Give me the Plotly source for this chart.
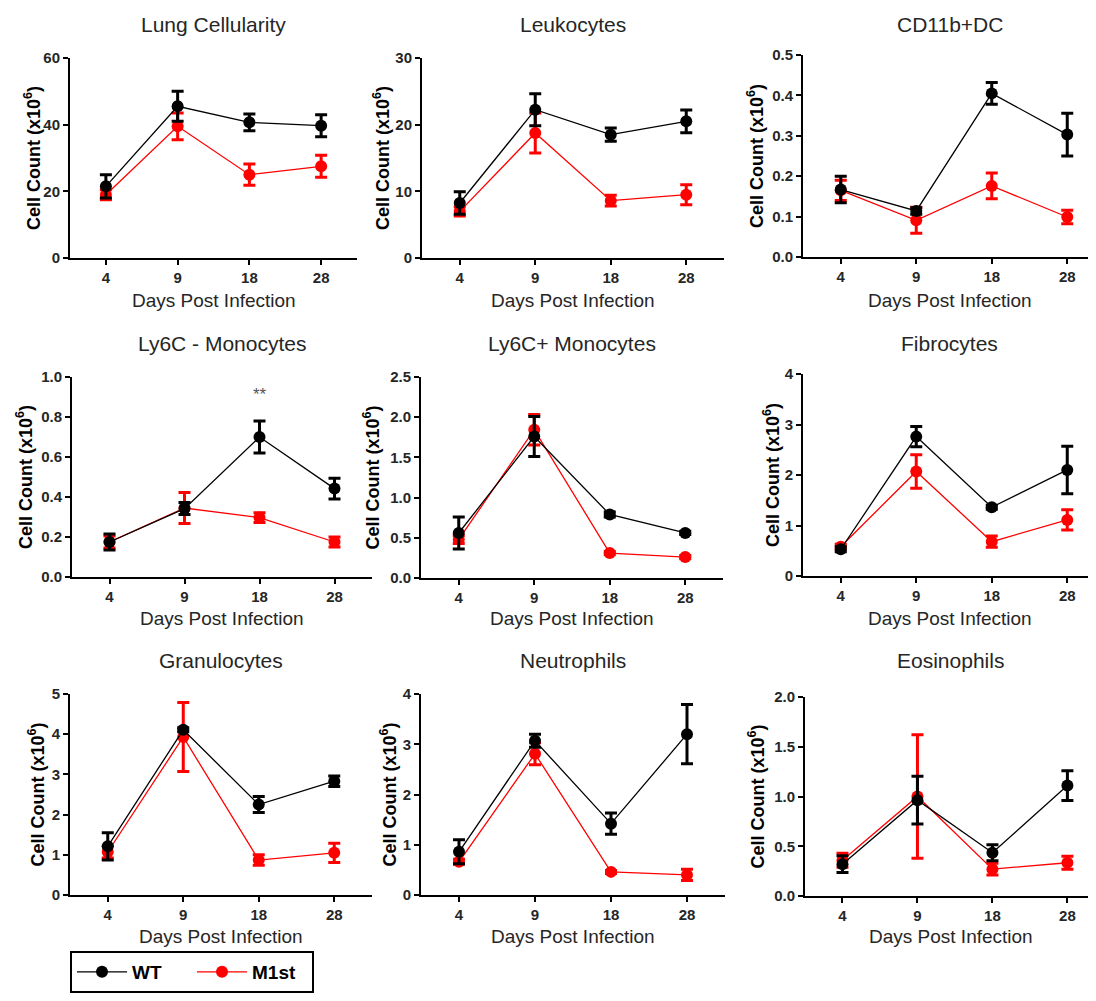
import plotly.graph_objects as go

# page body has an 8px margin, so the figure is sized to fit the window
OFF = 8
W, H = 1096 - 2 * OFF, 1001 - 2 * OFF
days = ["4", "9", "18", "28"]

# ---- data (mean and error, x10^6 cells) ----
lung_wt = [21.5, 45.5, 40.7, 39.7]
lung_wt_err = [3.5, 4.5, 2.5, 3.3]
lung_m1 = [19.0, 39.5, 25.0, 27.5]
lung_m1_err = [1.5, 4.0, 3.2, 3.3]

leuk_wt = [8.25, 22.25, 18.5, 20.5]
leuk_wt_err = [1.7, 2.4, 1.0, 1.7]
leuk_m1 = [7.0, 18.75, 8.6, 9.5]
leuk_m1_err = [0.7, 3.0, 0.8, 1.5]

cd11_wt = [0.167, 0.114, 0.405, 0.303]
cd11_wt_err = [0.033, 0.008, 0.027, 0.053]
cd11_m1 = [0.165, 0.091, 0.176, 0.099]
cd11_m1_err = [0.025, 0.032, 0.032, 0.017]

ly6cn_wt = [0.175, 0.342, 0.70, 0.442]
ly6cn_wt_err = [0.04, 0.03, 0.08, 0.052]
ly6cn_m1 = [0.175, 0.345, 0.297, 0.175]
ly6cn_m1_err = [0.03, 0.078, 0.024, 0.025]

ly6cp_wt = [0.56, 1.76, 0.79, 0.56]
ly6cp_wt_err = [0.2, 0.25, 0.03, 0.02]
ly6cp_m1 = [0.48, 1.845, 0.31, 0.26]
ly6cp_m1_err = [0.05, 0.19, 0.02, 0.02]

fib_wt = [0.53, 2.76, 1.36, 2.1]
fib_wt_err = [0.05, 0.2, 0.04, 0.47]
fib_m1 = [0.58, 2.07, 0.68, 1.11]
fib_m1_err = [0.05, 0.33, 0.11, 0.2]

gran_wt = [1.21, 4.11, 2.25, 2.83]
gran_wt_err = [0.34, 0.05, 0.2, 0.13]
gran_m1 = [1.07, 3.93, 0.87, 1.05]
gran_m1_err = [0.15, 0.86, 0.13, 0.24]

neut_wt = [0.86, 3.07, 1.42, 3.2]
neut_wt_err = [0.24, 0.13, 0.21, 0.59]
neut_m1 = [0.66, 2.81, 0.46, 0.40]
neut_m1_err = [0.05, 0.22, 0.03, 0.11]

eos_wt = [0.32, 0.963, 0.435, 1.11]
eos_wt_err = [0.085, 0.24, 0.08, 0.15]
eos_m1 = [0.36, 1.0, 0.27, 0.334]
eos_m1_err = [0.07, 0.62, 0.06, 0.065]

titles = ["Lung Cellularity", "Leukocytes", "CD11b+DC",
          "Ly6C - Monocytes", "Ly6C+ Monocytes", "Fibrocytes",
          "Granulocytes", "Neutrophils", "Eosinophils"]
y_max = [60, 30, 0.5, 1.0, 2.5, 4, 5, 4, 2.0]
y_step = [20, 10, 0.1, 0.2, 0.5, 1, 1, 1, 0.5]
y_fmt = ["d", "d", ".1f", ".1f", ".1f", "d", "d", "d", ".1f"]

wt_series = [lung_wt, leuk_wt, cd11_wt, ly6cn_wt, ly6cp_wt, fib_wt, gran_wt, neut_wt, eos_wt]
wt_errs = [lung_wt_err, leuk_wt_err, cd11_wt_err, ly6cn_wt_err, ly6cp_wt_err, fib_wt_err, gran_wt_err, neut_wt_err, eos_wt_err]
m1_series = [lung_m1, leuk_m1, cd11_m1, ly6cn_m1, ly6cp_m1, fib_m1, gran_m1, neut_m1, eos_m1]
m1_errs = [lung_m1_err, leuk_m1_err, cd11_m1_err, ly6cn_m1_err, ly6cp_m1_err, fib_m1_err, gran_m1_err, neut_m1_err, eos_m1_err]

# ---- layout geometry (screen pixels of the target picture) ----
RIGHT = 1096 - OFF
x_dom_px = [(70, 357), (422, 724), (803, RIGHT),
            (72, 372), (421, 723), (803, RIGHT),
            (70, 372), (421, 725), (805, RIGHT)]
col3_right = -0.5 + (RIGHT - 803) / 75.5
x_rng = [(-0.5, 3.5), (-0.5, 3.5), (-0.5, col3_right),
         (-0.5, 3.5), (-0.5, 3.5), (-0.5, col3_right),
         (-0.5, 3.5), (-0.5, 3.5), (-0.5, col3_right)]
y_dom_px = [(58, 258), (58, 258), (55, 257),
            (377, 577), (377, 578), (374, 576),
            (694, 895), (694, 895), (697, 896)]
title_y_px = [25, 343, 660]
xtitle_y_px = [300, 618, 936]
ytitle_x_px = [32, 381, 756, 24, 372, 771, 37, 389, 757]

FONT = "Arial, Liberation Sans, sans-serif"
TXT = "#262626"
RED = "#ff0000"
BLK = "#000000"

def px2x(p):
    return (p - OFF) / W

def px2y(p):
    return 1 - (p - OFF) / H

fig = go.Figure()
annotations = []
idx = list(range(4))

for i in range(9):
    ax = "" if i == 0 else str(i + 1)
    xref, yref = "x" + ax, "y" + ax
    for name, ys, es, col, show in [("M1st", m1_series[i], m1_errs[i], RED, i == 0),
                                    ("WT", wt_series[i], wt_errs[i], BLK, i == 0)]:
        fig.add_trace(go.Scatter(
            x=idx, y=ys, mode="lines+markers", name=name,
            line=dict(color=col, width=1.3),
            marker=dict(color=col, size=12, symbol="circle"),
            error_y=dict(type="data", array=es, visible=True, color=col,
                         thickness=3, width=6),
            xaxis=xref, yaxis=yref, showlegend=show,
            legendrank=2 if name == "M1st" else 1,
            cliponaxis=False,
        ))
    xd = x_dom_px[i]
    yd = y_dom_px[i]
    fig.layout["xaxis" + ax] = dict(
        domain=[px2x(xd[0]), min(1.0, px2x(xd[1]))], range=list(x_rng[i]), anchor=yref,
        tickmode="array", tickvals=idx, ticktext=days,
        showline=True, linecolor=BLK, linewidth=2, ticks="outside", ticklen=5,
        tickwidth=2, tickcolor=BLK, showgrid=False, zeroline=False,
        tickfont=dict(family=FONT, size=15, color=TXT, weight="bold"), fixedrange=True,
    )
    nt = int(round(y_max[i] / y_step[i]))
    tv = [round(k * y_step[i], 3) for k in range(nt + 1)]
    tt = [("%d" % v) if y_fmt[i] == "d" else ("%.1f" % v) for v in tv]
    fig.layout["yaxis" + ax] = dict(
        domain=[px2y(yd[1]), px2y(yd[0])], range=[0, y_max[i]], anchor=xref,
        tickmode="array", tickvals=tv, ticktext=tt,
        showline=True, linecolor=BLK, linewidth=2, ticks="outside", ticklen=5,
        tickwidth=2, tickcolor=BLK, showgrid=False, zeroline=False,
        tickfont=dict(family=FONT, size=15, color=TXT, weight="bold"), fixedrange=True,
    )
    row = i // 3
    cx = (xd[0] + xd[1]) / 2 if i % 3 != 2 else (xd[0] + 1096) / 2
    annotations.append(dict(text=titles[i], x=px2x(cx), y=px2y(title_y_px[row]),
                            xref="paper", yref="paper", showarrow=False,
                            xanchor="center", yanchor="middle",
                            font=dict(family=FONT, size=21, color=TXT)))
    annotations.append(dict(text="Days Post Infection", x=px2x(cx), y=px2y(xtitle_y_px[row]),
                            xref="paper", yref="paper", showarrow=False,
                            xanchor="center", yanchor="middle",
                            font=dict(family=FONT, size=19, color=TXT)))
    annotations.append(dict(text="Cell Count (x10<sup>6</sup>)", x=px2x(ytitle_x_px[i]),
                            y=px2y((yd[0] + yd[1]) / 2),
                            xref="paper", yref="paper", showarrow=False, textangle=-90,
                            xanchor="center", yanchor="middle",
                            font=dict(family=FONT, size=18, color=BLK, weight="bold")))

# significance marker
annotations.append(dict(text="**", x=2, y=0.913, xref="x4", yref="y4", showarrow=False,
                        xanchor="center", yanchor="middle",
                        font=dict(family=FONT, size=17, color="#555555")))

fig.update_layout(
    width=W, height=H, margin=dict(l=0, r=0, t=0, b=0, autoexpand=False),
    paper_bgcolor="white", plot_bgcolor="white",
    annotations=annotations,
    showlegend=True,
    legend=dict(orientation="h", x=px2x(70), y=px2y(951), xanchor="left", yanchor="top",
                bgcolor="white", bordercolor=BLK, borderwidth=2,
                font=dict(family=FONT, size=19, color=BLK, weight="bold"),
                itemwidth=50, entrywidth=55, entrywidthmode="pixels",
                traceorder="normal"),
)

fig.write_html("out.html")
